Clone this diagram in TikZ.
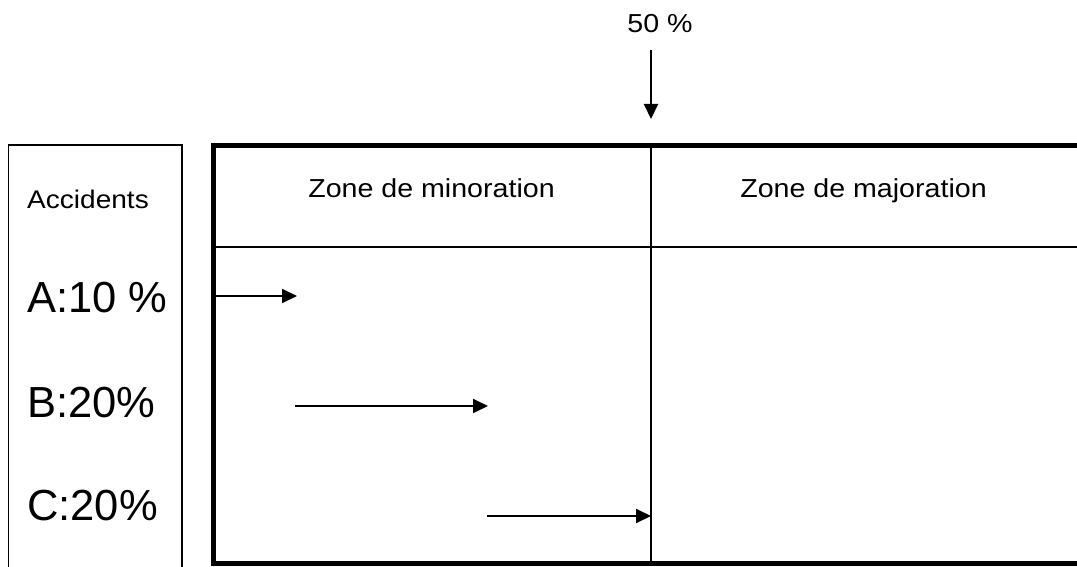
\documentclass[tikz,border=0pt]{standalone}
\usepackage{fontspec}
\setmainfont{Liberation Sans}
\newfontfamily\widesans[FakeStretch=1.1]{Liberation Sans}
\usetikzlibrary{arrows.meta}
\begin{document}
\begin{tikzpicture}[x=1pt,y=-1pt,
  thinline/.style={line width=1.8pt},
  frameline/.style={line width=5pt},
  divline/.style={line width=2.2pt},
  shiftarrow/.style={line width=2pt,-{Triangle[length=15pt,width=14pt]}},
  small/.style={font=\widesans\fontsize{26}{30}\selectfont,inner sep=0pt},
  big/.style={font=\fontsize{43.5}{50}\selectfont,inner sep=0pt}]
\useasboundingbox[fill=white] (0,0) rectangle (1077,567);

% accidents column
\draw[thinline] (8.5,580) -- (8.5,145) -- (182,145) -- (182,580);
\node[small,font=\widesans\fontsize{25.5}{30}\selectfont,anchor=base west] (acc) at (27,208.5) {Accidents};
\node[big,anchor=base west] (ra) at (27,312) {A:10 \%};
\node[big,anchor=base west] (rb) at (27,417) {B:20\%};
\node[big,anchor=base west] (rc) at (27,520) {C:20\%};

% zones table
\draw[frameline] (1090,145.5) -- (213,145.5) -- (213,563) -- (1090,563);
\draw[divline] (213,247) -- (1090,247);
\coordinate (midtop) at (651,145.5);
\coordinate (midbot) at (651,563);
\draw[divline] (midtop) -- (midbot);
\node[small,anchor=base] (zmin) at (431.5,197.3) {Zone de minoration};
\node[small,anchor=base] (zmaj) at (863.5,197.3) {Zone de majoration};

% 50 % threshold
\node[small,anchor=base] (half) at (660,32.3) {50 \%};
\coordinate (hs) at (651,50);
\coordinate (he) at (651,119);
\draw[shiftarrow] (hs) -- (he);

% accident shifts
\coordinate (a0) at (215,296);
\coordinate (a1) at (297,296);
\coordinate (b0) at (295,406);
\coordinate (b1) at (488,406);
\coordinate (c0) at (487,516);
\coordinate (c1) at (651,516);
\draw[shiftarrow] (a0) -- (a1);
\draw[shiftarrow] (b0) -- (b1);
\draw[shiftarrow] (c0) -- (c1);
\end{tikzpicture}
\end{document}
